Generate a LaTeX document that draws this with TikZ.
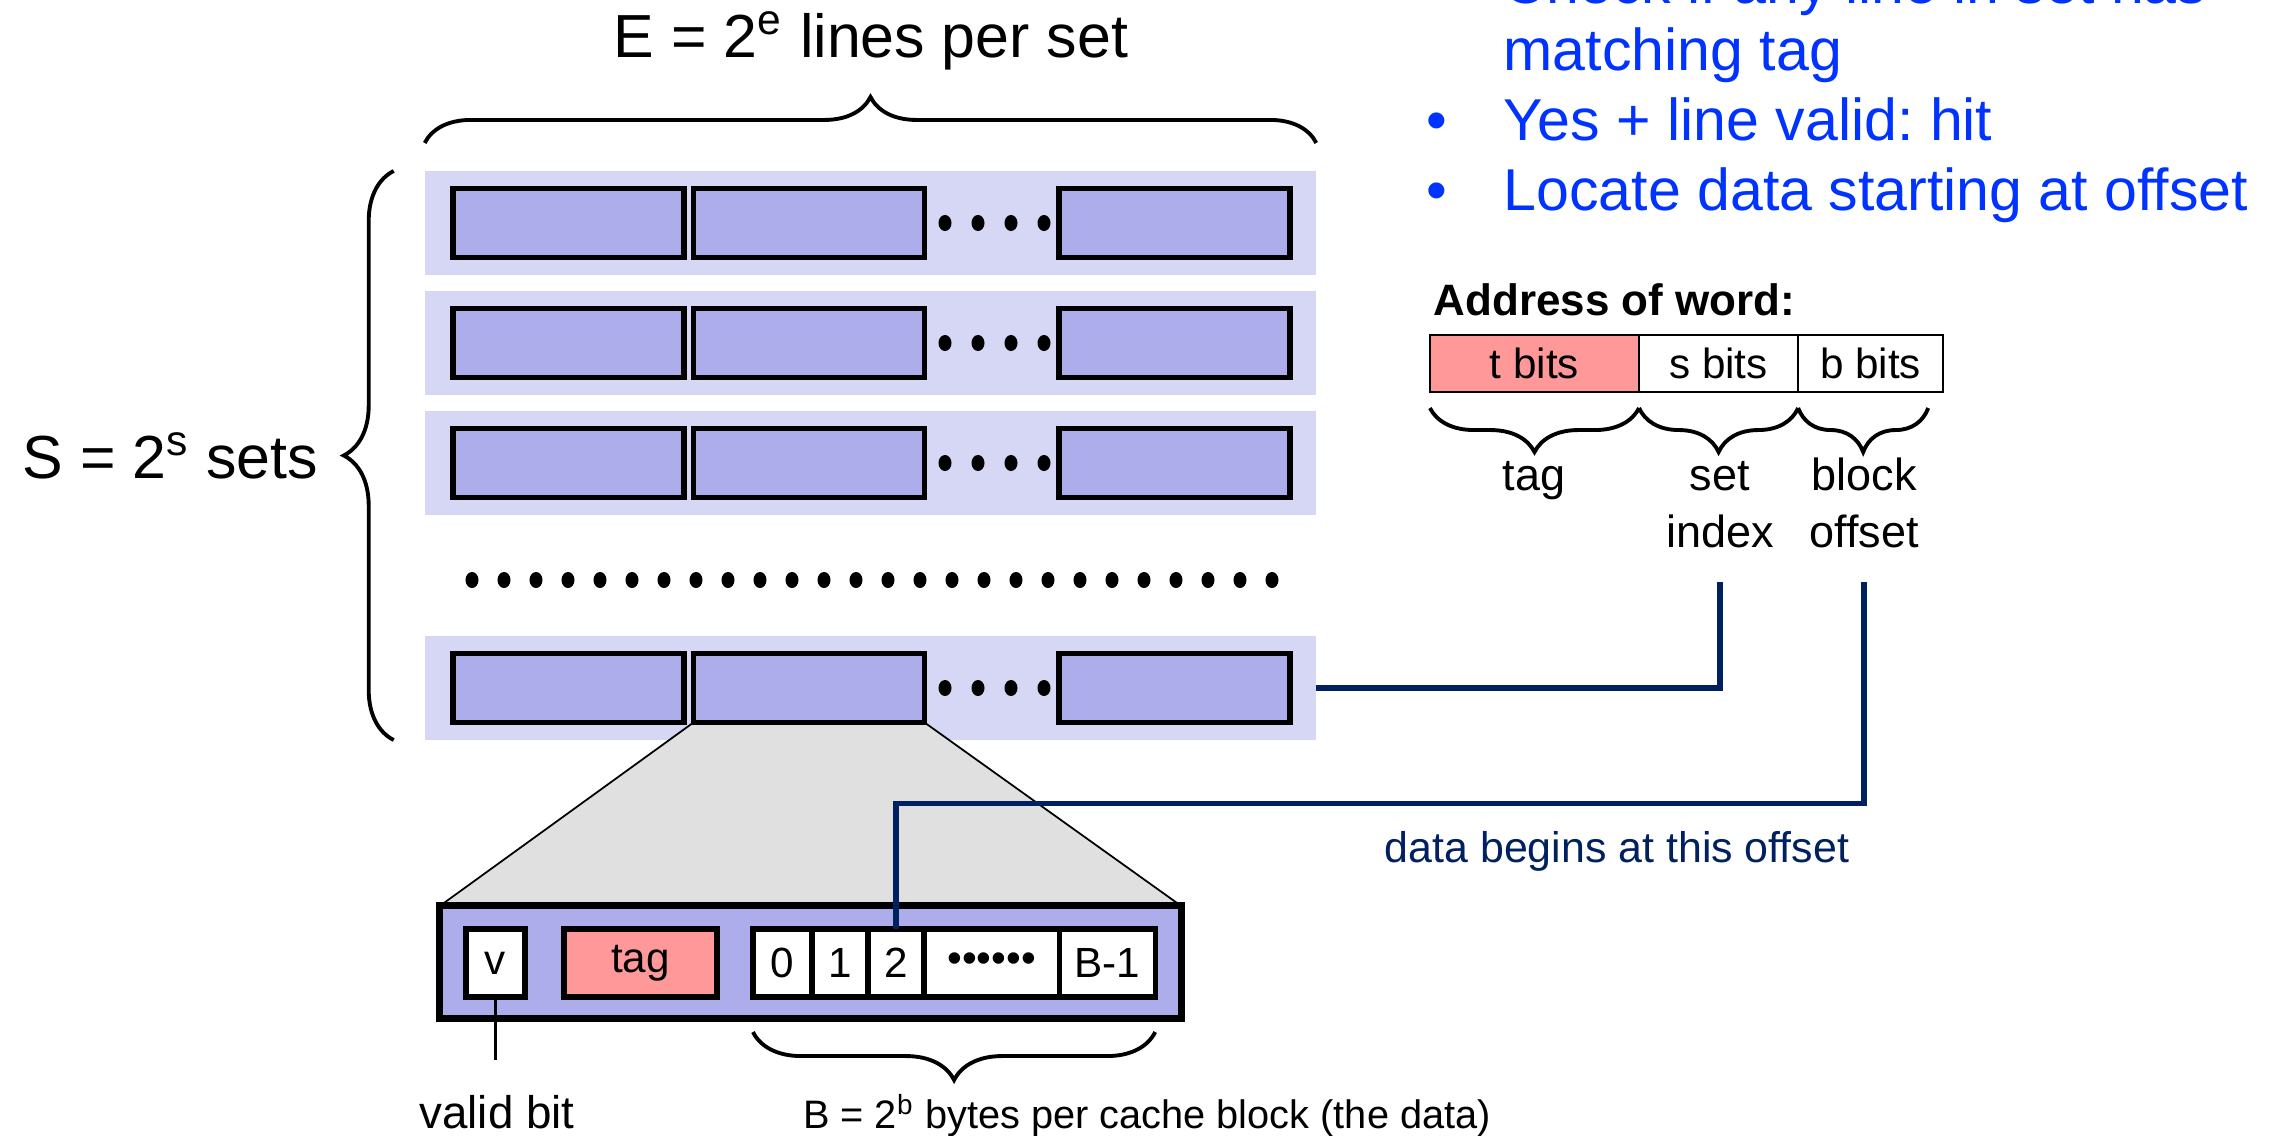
\documentclass[tikz,border=0pt]{standalone}
\usepackage{fontspec}
\setmainfont{Liberation Sans}
\frenchspacing
\usetikzlibrary{positioning,decorations.pathreplacing,backgrounds}
\definecolor{bandcol}{RGB}{214,214,245}
\definecolor{linecol}{RGB}{173,173,235}
\definecolor{tagcol}{RGB}{255,153,153}
\definecolor{zoomcol}{RGB}{224,224,224}
\definecolor{navy}{RGB}{0,32,96}
\definecolor{hitblue}{RGB}{0,51,255}

\begin{document}
\begin{tikzpicture}[x=0.01cm,y=-0.01cm,
  band/.style={fill=bandcol,minimum width=8.91cm,minimum height=1.04cm,inner sep=0pt,outer sep=0pt},
  line box/.style={draw,line width=1.6pt,fill=linecol,minimum width=2.31cm,minimum height=0.69cm,inner sep=0pt,outer sep=0pt},
  cache block/.style={draw,line width=2pt,fill=linecol,minimum width=7.41cm,minimum height=1.12cm,outer sep=0pt},
  cell/.style={draw,line width=1.5pt,fill=white,minimum height=0.68cm,inner sep=0pt,outer sep=0pt,font=\fontsize{12}{14}\selectfont},
  addr box/.style={draw,line width=0.6pt,fill=white,minimum height=0.57cm,inner sep=0pt,outer sep=0pt,font=\fontsize{12}{14}\selectfont},
  txt/.style={anchor=base,inner sep=0pt,font=\fontsize{12.8}{15}\selectfont},
  big txt/.style={anchor=base,inner sep=0pt,font=\fontsize{17.3}{20}\selectfont},
  hit txt/.style={anchor=base west,inner sep=0pt,text=hitblue,font=\fontsize{16.8}{20}\selectfont},
  curly/.style={decorate,line width=1.1pt},
  navy line/.style={draw=navy,line width=1.5pt}]

  \useasboundingbox (0,0) rectangle (2277,1136);

  \begin{pgfonlayer}{background}
  \foreach \n/\y in {1/223,2/343,3/463,4/688}
    \node[band] (set\n) at (870.5,\y) {};
  \end{pgfonlayer}
  \foreach \n/\y in {1/223,2/343,3/463,4/688} {
    \node[line box] (l\n1) at (568.5,\y) {};
    \node[line box] (l\n2) at (809,\y) {};
    \node[line box] (l\n3) at (1174.5,\y) {};
    \foreach \i in {0,...,3}
      \fill (945+33*\i,\y) ellipse[x radius=0.065cm,y radius=0.08cm];
  }
  \foreach \i in {0,...,25}
    \fill (472+32*\i,580) ellipse[x radius=0.065cm,y radius=0.08cm];

  \node[big txt] (ways) at (871,57) {E = 2\textsuperscript{e} lines per set};
  \node[big txt,anchor=base west] (sets) at (22,478) {S = 2\textsuperscript{s} sets};
  \draw[curly,decoration={brace,amplitude=0.46cm,raise=0.28cm}] (set1.north west) -- (set1.north east);
  \draw[curly,decoration={brace,amplitude=0.5cm,raise=0.31cm}] (set4.south west) -- (set1.north west);

  \node[cache block] (cblock) at (810.5,962) {};
  \node[cell,minimum width=0.59cm] (vbit) at (495.5,963) {v};
  \node[cell,fill=tagcol,minimum width=1.53cm] (ctag) at (640.5,963) {tag};
  \node[cell,minimum width=0.59cm] (b0) at (782.5,963) {0};
  \node[cell,minimum width=0.56cm,right=0pt of b0] (b1) {1};
  \node[cell,minimum width=0.56cm,right=0pt of b1] (b2) {2};
  \node[cell,minimum width=1.35cm,right=0pt of b2] (bdots) {••••••};
  \node[cell,minimum width=0.96cm,right=0pt of bdots] (blast) {B-1};
  \begin{pgfonlayer}{background}
  \filldraw[fill=zoomcol,line width=0.5pt] (l42.south west) -- (cblock.north west) -- (cblock.north east) -- (l42.south east);
  \end{pgfonlayer}

  \node[txt,font=\fontsize{13}{15}\selectfont] (validl) at (497,1128) {valid bit};
  \draw[line width=0.7pt,shorten >=0.34cm] (vbit.south) -- (vbit.south |- validl.north);
  \draw[curly,decoration={brace,amplitude=0.48cm,raise=0.35cm}] (blast.south east) -- (b0.south west);
  \node[txt,font=\fontsize{11.3}{14}\selectfont] (bytesl) at (1147,1128) {B = 2\textsuperscript{b} bytes per cache block (the data)};

  \node[txt,anchor=base west,font=\bfseries\fontsize{12.5}{15}\selectfont] (addr) at (1433,315) {Address of word:};
  \node[addr box,fill=tagcol,minimum width=2.09cm] (tbits) at (1534.5,363.5) {t bits};
  \node[addr box,minimum width=1.59cm,right=0pt of tbits] (sbits) {s bits};
  \node[addr box,minimum width=1.45cm,right=0pt of sbits] (bbits) {b bits};
  \draw[curly,decoration={brace,amplitude=0.44cm,raise=0.16cm}] (tbits.south east) -- (tbits.south west);
  \draw[curly,decoration={brace,amplitude=0.44cm,raise=0.16cm}] (sbits.south east) -- (sbits.south west);
  \draw[curly,decoration={brace,amplitude=0.44cm,raise=0.16cm}] ([xshift=-0.15cm]bbits.south east) -- (bbits.south west);
  \node[txt] (tagl) at (1534,490) {tag};
  \node[txt] (setl) at (1720,490) {set};
  \node[txt] (idxl) at (1720,547) {index};
  \node[txt] (blkl) at (1864,490) {block};
  \node[txt] (offl) at (1864,547) {offset};

  \coordinate (idx) at ([yshift=-0.34cm]idxl.south);
  \coordinate (off) at ([yshift=-0.34cm]offl.south);
  \draw[navy line] (set4.east) -| (idx);
  \draw[navy line] (off) -- ++(0,221) -| (b2.north);
  \node[txt,text=navy,font=\fontsize{12.2}{14}\selectfont] (begins) at (1617,862) {data begins at this offset};

  \node[hit txt] (chk) at (1503,3) {Check if any line in set has};
  \node[hit txt] (match) at (1503,70) {matching tag};
  \node[hit txt] (yes) at (1503,140) {Yes + line valid: hit};
  \node[hit txt] (loc) at (1503,210) {Locate data starting at offset};
  \node[hit txt,anchor=base] (yesdot) at (1437,140) {•};
  \node[hit txt,anchor=base] (locdot) at (1437,210) {•};
\end{tikzpicture}
\end{document}
